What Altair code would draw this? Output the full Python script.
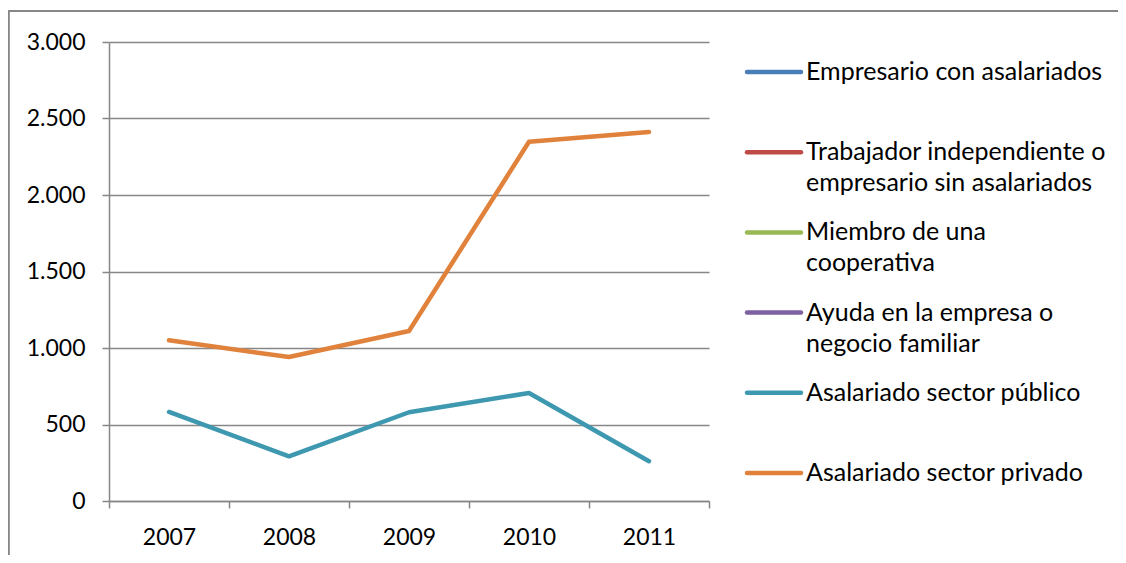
import altair as alt
import pandas as pd

years = ["2007", "2008", "2009", "2010", "2011"]
series = [
    "Empresario con asalariados",
    "Trabajador independiente o empresario sin asalariados",
    "Miembro de una cooperativa",
    "Ayuda en la empresa o negocio familiar",
    "Asalariado sector público",
    "Asalariado sector privado",
]
legend_line1 = [
    "Empresario con asalariados",
    "Trabajador independiente o",
    "Miembro de una",
    "Ayuda en la empresa o",
    "Asalariado sector público",
    "Asalariado sector privado",
]
legend_line2 = ["", "empresario sin asalariados", "cooperativa", "negocio familiar", "", ""]
colors = ["#4A7EBB", "#BE4B48", "#98B954", "#7D60A0", "#3D98B0", "#E0823B"]

empresario = [None, None, None, None, None]
independiente = [None, None, None, None, None]
cooperativa = [None, None, None, None, None]
ayuda = [None, None, None, None, None]
publico = [582, 292, 580, 706, 260]
privado = [1050, 941, 1111, 2348, 2412]

values = [empresario, independiente, cooperativa, ayuda, publico, privado]
rows = []
for s, vals in zip(series, values):
    for y, v in zip(years, vals):
        if v is not None:
            rows.append({"year": y, "series": s, "value": v})
df = pd.DataFrame(rows)
leg = pd.DataFrame({"series": series, "l1": legend_line1, "l2": legend_line2})

FONT = "Lato"
FS = 23
LFS = 25
GRAY = "#878787"

color_scale = alt.Scale(domain=series, range=colors)

lines = alt.Chart(df).mark_line(strokeWidth=4.5, strokeCap="round", strokeJoin="round").encode(
    x=alt.X("year:O", sort=years,
            scale=alt.Scale(type="band", paddingInner=0, paddingOuter=0),
            axis=alt.Axis(title=None, labelAngle=0, tickBand="extent", grid=False,
                          domainColor=GRAY, tickColor=GRAY, tickSize=7, domainWidth=1.5, tickWidth=1.5,
                          labelFontSize=FS, labelFont=FONT, labelColor="#000000", labelPadding=18)),
    y=alt.Y("value:Q", scale=alt.Scale(domain=[0, 3000], nice=False),
            axis=alt.Axis(title=None, values=[0, 500, 1000, 1500, 2000, 2500, 3000],
                          labelExpr="replace(format(datum.value, ','), ',', '.')",
                          grid=True, gridColor=GRAY, gridWidth=1.5,
                          domainColor=GRAY, tickColor=GRAY, tickSize=7, domainWidth=1.5, tickWidth=1.5,
                          labelFontSize=FS, labelFont=FONT, labelColor="#000000", labelPadding=17)),
    color=alt.Color("series:N", scale=color_scale, legend=None),
    detail="series:N",
)

leg_y = alt.Y("series:N", sort=series, scale=alt.Scale(type="point", domain=series, range=[30, 431], padding=0), axis=None)

leg_rules = alt.Chart(leg).mark_rule(strokeWidth=4.5, strokeCap="round").encode(
    x=alt.value(638), x2=alt.value(692), y=leg_y,
    color=alt.Color("series:N", scale=color_scale, legend=None),
)
leg_t1 = alt.Chart(leg).mark_text(align="left", baseline="middle", font=FONT, fontSize=LFS, color="#000000").encode(
    x=alt.value(697), y=leg_y, text="l1:N")
leg_t2 = alt.Chart(leg).mark_text(align="left", baseline="middle", font=FONT, fontSize=LFS, color="#000000", dy=31).encode(
    x=alt.value(697), y=leg_y, text="l2:N")

frame_left = alt.Chart(leg).mark_rule(color=GRAY, strokeWidth=1.5).encode(
    x=alt.value(-100.5), y=alt.value(-31), y2=alt.value(600))
frame_top = alt.Chart(leg).mark_rule(color=GRAY, strokeWidth=1.5).encode(
    x=alt.value(-100.5), x2=alt.value(1200), y=alt.value(-31))

chart = alt.layer(frame_left, frame_top, lines, leg_rules, leg_t1, leg_t2).resolve_scale(
    y="independent"
).properties(
    width=600, height=459,
    padding={"left": 101, "top": 34, "right": 409, "bottom": 54},
    autosize=alt.AutoSizeParams(type="none"),
).configure_view(stroke=None)

chart.save("out.html", embed_options={"renderer": "svg", "actions": False})
